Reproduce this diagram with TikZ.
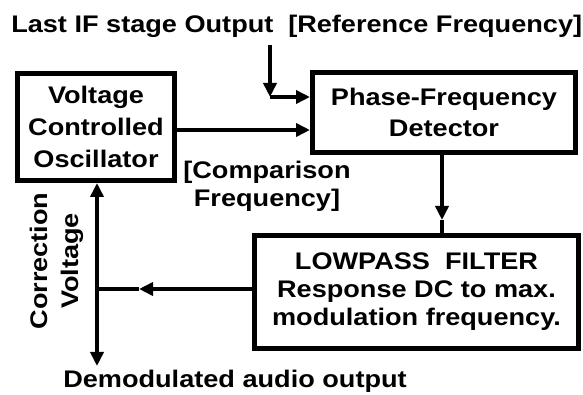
\documentclass[tikz,border=0pt]{standalone}
\usepackage{fontspec}
\setmainfont{Liberation Sans}[FakeStretch=1.13]
\usetikzlibrary{arrows.meta}
\begin{document}
\begin{tikzpicture}[x=0.75pt,y=-0.75pt,
  every node/.style={font=\fontsize{18}{24}\selectfont\bfseries},
  box/.style={draw,line width=3.75pt,inner sep=0pt,align=center},
  lbl/.style={inner sep=0pt,align=center},
  wire/.style={line width=3pt},
  arr/.style={wire,-{Triangle[length=10.5pt,width=9.75pt]}},
  arrb/.style={wire,{Triangle[length=10.5pt,width=9.75pt]}-{Triangle[length=10.5pt,width=9.75pt]}}
]
\useasboundingbox (0,0) rectangle (583,395);

\node[box,minimum width=117.75pt,minimum height=80.25pt] (vco) at (96,127)
  {Voltage\\Controlled\\Oscillator};
\node[box,minimum width=197.25pt,minimum height=60pt,
  font=\fontsize{18}{23.25}\selectfont\bfseries] (pfd) at (444,112.5)
  {Phase-Frequency\\Detector};
\node[box,minimum width=243pt,minimum height=84.75pt,
  font=\fontsize{18}{21}\selectfont\bfseries] (lpf) at (416.5,292)
  {LOWPASS\ \ FILTER\\Response DC to max.\\modulation frequency.};

\node[lbl,anchor=base west] (lastif) at (11,33) {Last IF stage Output};
\node[lbl,anchor=base west] (ref) at (288,33) {[Reference Frequency]};
\node[lbl,font=\fontsize{18}{21}\selectfont\bfseries] (cmp) at (267,186) {[Comparison\\Frequency]};
\node[lbl,rotate=90,font=\fontsize{18}{23.25}\selectfont\bfseries] (corr) at (57,261) {Correction\\Voltage};
\node[lbl,anchor=base west] (demod) at (63,388) {Demodulated audio output};

% IF input
\coordinate (ifs) at (270,45);
\coordinate (ifc) at (270,97);
\draw[arr] (ifs) -- (ifc);
\draw[arr] (ifc) -- (ifc -| pfd.west);

% VCO -> PFD
\coordinate (cmpy) at (240,130);
\draw[arr] (vco.east |- cmpy) -- (pfd.west |- cmpy);

% PFD -> LPF
\coordinate (pl) at (442,220);
\draw[arr] (pfd.south -| pl) -- (pl);
\draw[wire] (pl) -- (lpf.north -| pl);

% LPF -> left
\coordinate (lt) at (139,289);
\coordinate (junc) at (97,289);
\draw[arr] (lpf.west |- lt) -- (lt);
\draw[wire] (lt) -- (junc);

% correction voltage / audio output
\coordinate (bot) at (97,366);
\draw[arrb] (vco.south -| junc) -- (bot);
\end{tikzpicture}
\end{document}
